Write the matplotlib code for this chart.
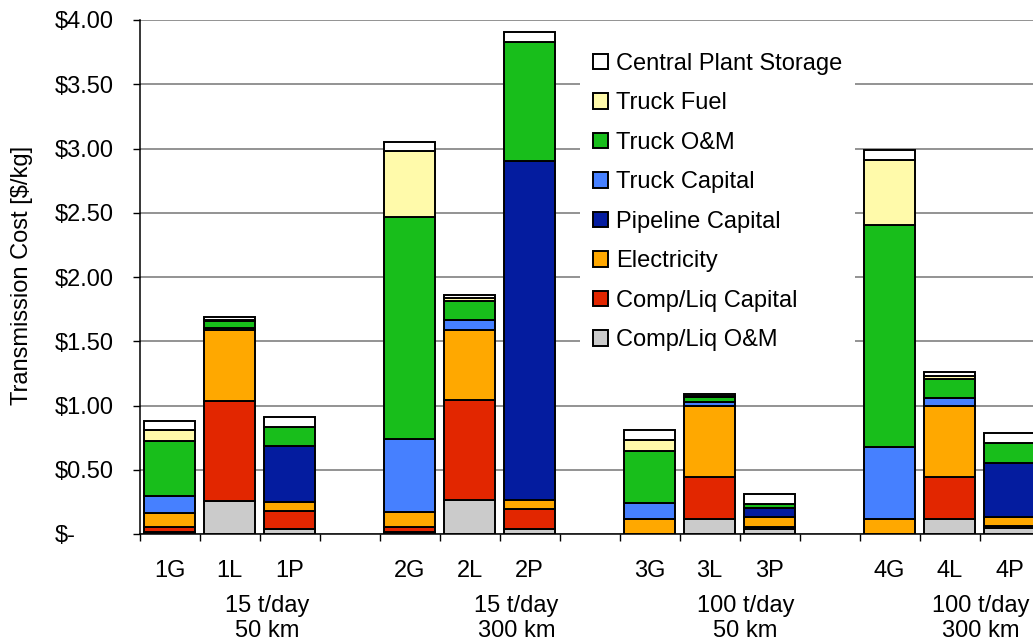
import matplotlib
matplotlib.use("Agg")
import matplotlib.pyplot as plt
import matplotlib.transforms as mtransforms
from matplotlib.patches import Patch
import numpy as np

plt.rcParams['font.family'] = ['Liberation Sans', 'DejaVu Sans']
plt.rcParams['text.parse_math'] = False

# ---------------- data ----------------
categories = ['1G', '1L', '1P', '', '2G', '2L', '2P', '', '3G', '3L', '3P', '', '4G', '4L', '4P']

comp_liq_om      = [0.018, 0.259, 0.037, 0, 0.018, 0.262, 0.041, 0, 0.000, 0.114, 0.041, 0, 0.000, 0.114, 0.044]
comp_liq_capital = [0.037, 0.778, 0.142, 0, 0.039, 0.780, 0.151, 0, 0.000, 0.332, 0.016, 0, 0.000, 0.332, 0.020]
electricity      = [0.109, 0.550, 0.072, 0, 0.112, 0.545, 0.072, 0, 0.113, 0.553, 0.078, 0, 0.117, 0.550, 0.068]
pipeline_capital = [0.000, 0.000, 0.436, 0, 0.000, 0.000, 2.638, 0, 0.000, 0.000, 0.065, 0, 0.000, 0.000, 0.423]
truck_capital    = [0.135, 0.020, 0.000, 0, 0.568, 0.078, 0.000, 0, 0.130, 0.025, 0.000, 0, 0.560, 0.066, 0.000]
truck_om         = [0.426, 0.047, 0.145, 0, 1.732, 0.148, 0.926, 0, 0.402, 0.043, 0.031, 0, 1.728, 0.148, 0.151]
truck_fuel       = [0.086, 0.010, 0.000, 0, 0.511, 0.023, 0.000, 0, 0.083, 0.006, 0.000, 0, 0.506, 0.023, 0.000]
central_storage  = [0.072, 0.024, 0.075, 0, 0.072, 0.025, 0.080, 0, 0.078, 0.016, 0.078, 0, 0.078, 0.025, 0.082]

series_names = ['Comp/Liq O&M', 'Comp/Liq Capital', 'Electricity', 'Pipeline Capital',
                'Truck Capital', 'Truck O&M', 'Truck Fuel', 'Central Plant Storage']
series_values = [comp_liq_om, comp_liq_capital, electricity, pipeline_capital,
                 truck_capital, truck_om, truck_fuel, central_storage]
series_colors = ['#CBCBCB', '#E22600', '#FFA800', '#041C9F',
                 '#4680FF', '#18BE1B', '#FFFAAA', '#FFFFFF']

group_labels = [('15 t/day', '50 km'), ('15 t/day', '300 km'),
                ('100 t/day', '50 km'), ('100 t/day', '300 km')]

y_ticks = [0, 0.5, 1.0, 1.5, 2.0, 2.5, 3.0, 3.5, 4.0]
y_tick_labels = ['$-', '$0.50', '$1.00', '$1.50', '$2.00', '$2.50', '$3.00', '$3.50', '$4.00']
y_label = 'Transmission Cost [$/kg]'

# ---------------- layout ----------------
W, H = 1033, 642
FS = 17
fig = plt.figure(figsize=(W / 100, H / 100), dpi=100)
ax_left, ax_bottom, ax_w, ax_h = 139.5, 108, 900, 514
ax = fig.add_axes([ax_left / W, ax_bottom / H, ax_w / W, ax_h / H])

idx = [i for i, c in enumerate(categories) if c != '']
x = np.arange(len(categories))
bottom = np.zeros(len(categories))
for name, vals, col in zip(series_names, series_values, series_colors):
    v = np.array(vals, dtype=float)
    ax.bar(x[idx], v[idx], bottom=bottom[idx], width=0.85, color=col,
           edgecolor='black', linewidth=1.4, zorder=3)
    bottom += v

ax.set_xlim(-0.5, len(categories) - 0.5)
ax.set_ylim(0, 4)

# grid
ax.set_yticks(y_ticks)
ax.set_yticklabels(y_tick_labels, ha='left', fontsize=FS)
ax.yaxis.grid(True, color='#808080', linewidth=1.2, zorder=0)
ax.set_axisbelow(True)
ax.tick_params(axis='y', length=5, width=1, color='black', pad=56)

# x ticks
ax.set_xticks(x[idx])
ax.set_xticklabels([categories[i] for i in idx], fontsize=FS)
ax.set_xticks(np.arange(-0.5, len(categories), 1.0), minor=True)
ax.tick_params(axis='x', which='major', length=0, pad=19)
ax.tick_params(axis='x', which='minor', length=5, width=1, color='black')

for s in ['top', 'right']:
    ax.spines[s].set_visible(False)
ax.spines['left'].set_linewidth(1.1)
ax.spines['bottom'].set_linewidth(1.1)

# group labels
trans = mtransforms.blended_transform_factory(ax.transData, ax.transAxes)
group_x = [1.62, 5.78, 9.60, 13.52]
for gx, (l1, l2) in zip(group_x, group_labels):
    ax.text(gx, -0.140, l1, transform=trans, ha='center', va='center', fontsize=FS)
    ax.text(gx, -0.189, l2, transform=trans, ha='center', va='center', fontsize=FS)

# y label
fig.text(22 / W, 1 - 275 / H, y_label, rotation=90, ha='center', va='center', fontsize=FS)

# legend
handles = [Patch(facecolor=c, edgecolor='black', linewidth=1.4, label=n)
           for n, c in zip(series_names, series_colors)][::-1]
leg = ax.legend(handles=handles, loc='upper left',
                bbox_to_anchor=(580 / W, 1 - 40 / H), bbox_transform=fig.transFigure,
                fontsize=FS, frameon=True, fancybox=False, framealpha=1,
                edgecolor='none', facecolor='white', borderaxespad=0,
                borderpad=0.55, handlelength=0.62, handleheight=0.62,
                handletextpad=0.35, labelspacing=0.74)
leg.set_zorder(10)

fig.savefig('out.png', dpi=100)
